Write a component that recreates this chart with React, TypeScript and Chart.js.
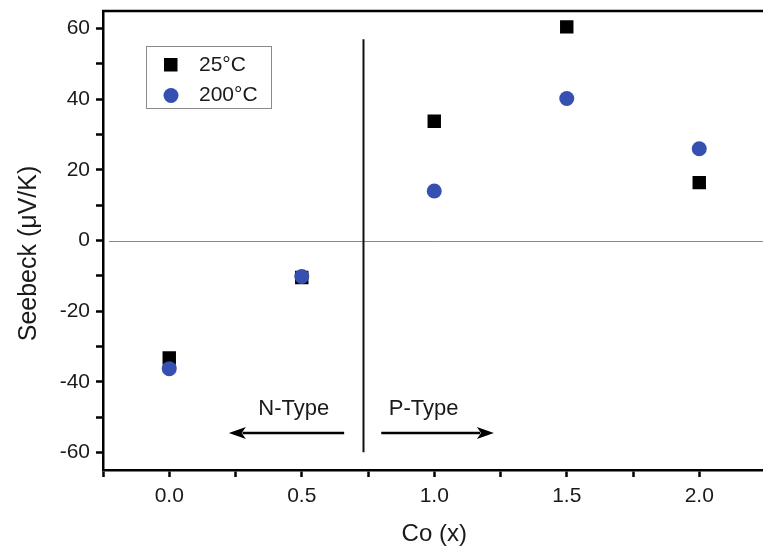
import React, { useEffect, useRef } from "react";
import { Chart, registerables } from "chart.js";

Chart.register(...registerables);

const coX: number[] = [0.0, 0.5, 1.0, 1.5, 2.0];
const seebeck25: number[] = [-33.3, -10.5, 33.8, 60.5, 16.4];
const seebeck200: number[] = [-36.3, -10.2, 14.0, 40.2, 26.0];
const seriesLabels: string[] = ["25\u00B0C", "200\u00B0C"];
const yTickValues: number[] = [-60, -50, -40, -30, -20, -10, 0, 10, 20, 30, 40, 50, 60];
const xTitle = "Co (x)";
const yTitle = "Seebeck (\u03BCV/K)";

const dividerX = 0.733;
const dividerY: number[] = [57, -60];
const arrowY = -54.5;
const nArrow: number[] = [0.66, 0.225];
const pArrow: number[] = [0.80, 1.225];
const typeLabels: string[] = ["N-Type", "P-Type"];
const typeLabelX: number[] = [0.47, 0.96];
const typeLabelY = -47.8;

const FONT = '"Liberation Sans", Arial, sans-serif';
const BLUE = "#3550b0";
const TEXT = "#1a1a1a";

export default function App() {
  const ref = useRef<HTMLCanvasElement | null>(null);
  useEffect(() => {
    const canvas = ref.current;
    if (!canvas) return;

    const overlay = {
      id: "overlay",
      beforeDatasetsDraw(chart: any) {
        const { ctx, chartArea, scales } = chart;
        const xs = scales.x;
        const ys = scales.y;
        ctx.save();
        // zero line
        ctx.strokeStyle = "#8a8a8a";
        ctx.lineWidth = 1;
        ctx.beginPath();
        const y0 = Math.round(ys.getPixelForValue(0)) + 0.5;
        ctx.moveTo(chartArea.left + 6, y0);
        ctx.lineTo(chartArea.right, y0);
        ctx.stroke();
        // top frame
        ctx.strokeStyle = "#000";
        ctx.lineWidth = 2.5;
        ctx.beginPath();
        ctx.moveTo(chartArea.left - 1, chartArea.top);
        ctx.lineTo(chartArea.right, chartArea.top);
        ctx.stroke();
        // divider
        ctx.lineWidth = 2;
        ctx.strokeStyle = "#111";
        const dx = xs.getPixelForValue(dividerX);
        ctx.beginPath();
        ctx.moveTo(dx, ys.getPixelForValue(dividerY[0]));
        ctx.lineTo(dx, ys.getPixelForValue(dividerY[1]));
        ctx.stroke();
        // arrows
        const drawArrow = (from: number, to: number) => {
          const ay = ys.getPixelForValue(arrowY);
          const x1 = xs.getPixelForValue(from);
          const x2 = xs.getPixelForValue(to);
          const dir = Math.sign(x2 - x1);
          const head = 17;
          ctx.lineWidth = 2.5;
          ctx.strokeStyle = "#000";
          ctx.fillStyle = "#000";
          ctx.beginPath();
          ctx.moveTo(x1, ay);
          ctx.lineTo(x2 - dir * head * 0.8, ay);
          ctx.stroke();
          ctx.beginPath();
          ctx.moveTo(x2, ay);
          ctx.lineTo(x2 - dir * head, ay - 6);
          ctx.lineTo(x2 - dir * head * 0.75, ay);
          ctx.lineTo(x2 - dir * head, ay + 6);
          ctx.closePath();
          ctx.fill();
        };
        drawArrow(nArrow[0], nArrow[1]);
        drawArrow(pArrow[0], pArrow[1]);
        // type labels
        ctx.fillStyle = TEXT;
        ctx.font = `22px ${FONT}`;
        ctx.textAlign = "center";
        ctx.textBaseline = "middle";
        typeLabels.forEach((t, i) => {
          ctx.fillText(t, xs.getPixelForValue(typeLabelX[i]), ys.getPixelForValue(typeLabelY));
        });
        // legend box
        const lx = chartArea.left + 43;
        const ly = chartArea.top + 35;
        ctx.strokeStyle = "#8a8a8a";
        ctx.lineWidth = 1;
        ctx.strokeRect(lx + 0.5, ly + 0.5, 125, 62);
        ctx.fillStyle = "#000";
        ctx.fillRect(lx + 18, ly + 12, 13.5, 13.5);
        ctx.fillStyle = BLUE;
        ctx.beginPath();
        ctx.arc(lx + 25, ly + 49.5, 7.5, 0, Math.PI * 2);
        ctx.fill();
        ctx.fillStyle = TEXT;
        ctx.font = `21px ${FONT}`;
        ctx.textAlign = "left";
        ctx.fillText(seriesLabels[0], lx + 53, ly + 19);
        ctx.fillText(seriesLabels[1], lx + 53, ly + 49);
        // y axis title
        ctx.save();
        ctx.translate(29, (chartArea.top + chartArea.bottom) / 2 + 13);
        ctx.rotate(-Math.PI / 2);
        ctx.font = `25px ${FONT}`;
        ctx.textAlign = "center";
        ctx.textBaseline = "middle";
        ctx.fillStyle = TEXT;
        ctx.fillText(yTitle, 0, 0);
        ctx.restore();
        ctx.restore();
      },
    };

    const chart = new Chart(canvas, {
      type: "scatter",
      data: {
        datasets: [
          {
            label: seriesLabels[1],
            data: coX.map((x, i) => ({ x, y: seebeck200[i] })),
            pointStyle: "circle",
            pointRadius: 7.5,
            pointBorderWidth: 0,
            backgroundColor: BLUE,
            borderColor: BLUE,
            order: 0,
          },
          {
            label: seriesLabels[0],
            data: coX.map((x, i) => ({ x, y: seebeck25[i] })),
            pointStyle: "rect",
            pointRadius: 9.5,
            pointBorderWidth: 0,
            backgroundColor: "#000",
            borderColor: "#000",
            order: 1,
          },
        ],
      },
      options: {
        responsive: false,
        animation: false,
        layout: { padding: { top: 11, right: 4, left: 0, bottom: 0 } },
        plugins: { legend: { display: false }, tooltip: { enabled: false } },
        scales: {
          x: {
            type: "linear",
            min: -0.25,
            max: 2.25,
            afterFit(scale: any) {
              scale.height = 79;
              scale.paddingLeft = 0;
              scale.paddingRight = 0;
            },
            ticks: {
              stepSize: 0.25,
              padding: 7,
              color: TEXT,
              font: { family: FONT, size: 21 },
              maxRotation: 0,
              autoSkip: false,
              callback: (v: any) => {
                const n = Number(v);
                return Math.abs(n * 2 - Math.round(n * 2)) < 1e-6 ? n.toFixed(1) : "";
              },
            },
            grid: {
              drawOnChartArea: false,
              drawTicks: true,
              tickLength: 7,
              tickWidth: 2.5,
              tickColor: "#000",
            },
            border: { color: "#000", width: 2.5 },
            title: {
              display: true,
              text: xTitle,
              color: TEXT,
              font: { family: FONT, size: 24 },
              padding: { top: 0, bottom: 0 },
            },
          },
          y: {
            type: "linear",
            min: -65,
            max: 65,
            afterFit(scale: any) {
              scale.width = 103;
              scale.paddingTop = 0;
              scale.paddingBottom = 0;
            },
            afterBuildTicks(scale: any) {
              scale.ticks = yTickValues.map((v) => ({ value: v }));
            },
            ticks: {
              padding: 6,
              color: TEXT,
              font: { family: FONT, size: 21 },
              autoSkip: false,
              maxRotation: 0,
              callback: (v: any) => {
                const n = Number(v);
                return Math.abs(n % 20) < 1e-6 ? String(n) : "";
              },
            },
            grid: {
              drawOnChartArea: false,
              drawTicks: true,
              tickLength: 7,
              tickWidth: 2.5,
              tickColor: "#000",
            },
            border: { color: "#000", width: 2.5 },
            title: { display: false, text: yTitle },
          },
        },
      },
      plugins: [overlay],
    });
    return () => chart.destroy();
  }, []);

  return (
    <div
      style={{
        position: "absolute",
        left: 0,
        top: 0,
        width: 763,
        height: 549,
        overflow: "hidden",
        background: "#fff",
      }}
    >
      <canvas ref={ref} width={775} height={549} style={{ display: "block" }} />
    </div>
  );
}
